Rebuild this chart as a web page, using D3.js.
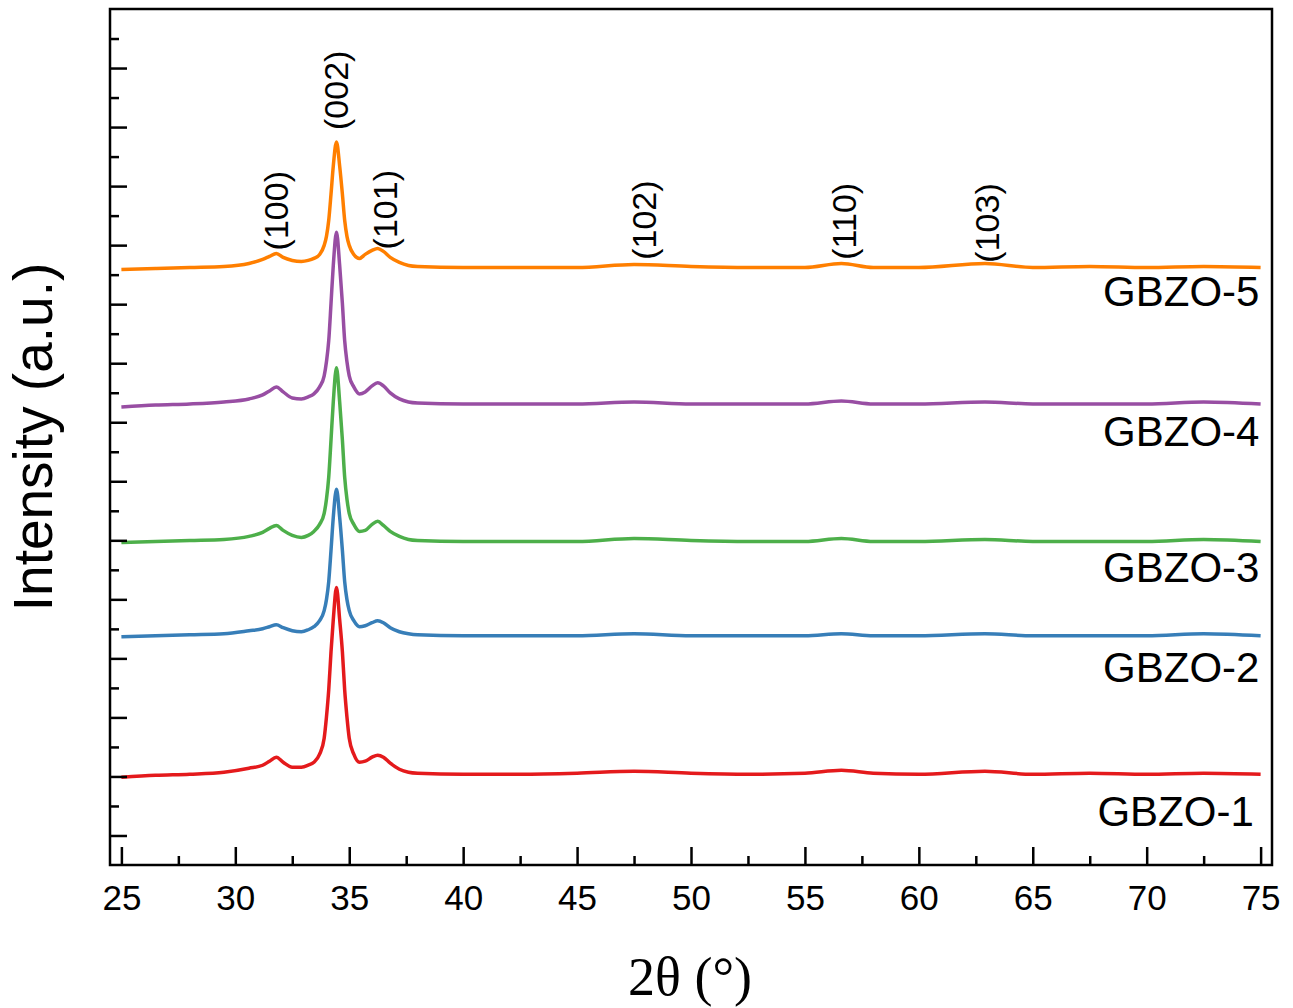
<!DOCTYPE html>
<html>
<head>
<meta charset="utf-8">
<script src="https://cdn.jsdelivr.net/npm/d3@7"></script>
<style>
  body { margin: 0; background: #fff; }
  svg { display: block; }
</style>
</head>
<body>
<svg id="chart" width="1293" height="1008"></svg>
<script>
// 2-theta positions (degrees) shared by all patterns
const twoTheta = [25, 26.5, 28, 29.5, 30.6, 31.2, 31.5, 31.8, 32.1, 32.5, 32.9, 33.2,
  33.45, 33.7, 33.9, 34.0, 34.1, 34.2, 34.3, 34.44, 34.58, 34.7, 34.8, 34.9, 35.0, 35.2, 35.45,
  35.7, 36.0, 36.25, 36.5, 36.8, 37.2, 37.6, 38, 40, 42.5, 45, 47.5, 50, 52.5, 55, 56.6,
  58, 60, 62.9, 65, 67.5, 70, 72.5, 75];

// stacked intensities (a.u., offsets included)
const gbzo1 = [986, 1020, 1037, 1071, 1139, 1190, 1258, 1326, 1241, 1156, 1156, 1190,
  1241, 1377, 1649, 2006, 2465, 3111, 3655, 4199, 3655, 3111, 2465, 2006, 1649, 1377, 1241,
  1258, 1326, 1360, 1326, 1224, 1122, 1071, 1054, 1037, 1037, 1054, 1088, 1054, 1037, 1054, 1105,
  1054, 1037, 1088, 1037, 1054, 1037, 1054, 1037];
const gbzo2 = [3366, 3383, 3400, 3417, 3468, 3502, 3536, 3570, 3519, 3468, 3451, 3485,
  3536, 3638, 3808, 3995, 4301, 4828, 5389, 5865, 5389, 4828, 4301, 3995, 3808, 3638, 3536,
  3553, 3604, 3638, 3604, 3519, 3451, 3417, 3400, 3383, 3383, 3383, 3417, 3383, 3383, 3383, 3417,
  3383, 3383, 3417, 3383, 3383, 3383, 3417, 3383];
const gbzo3 = [4964, 4981, 4998, 5015, 5066, 5134, 5202, 5253, 5168, 5083, 5049, 5083,
  5151, 5270, 5457, 5695, 6069, 6698, 7344, 7922, 7344, 6698, 6069, 5695, 5457, 5270, 5151,
  5168, 5270, 5321, 5253, 5151, 5066, 5015, 4998, 4981, 4981, 4981, 5032, 4998, 4981, 4981, 5032,
  4981, 4981, 5015, 4981, 4981, 4981, 5015, 4981];
const gbzo4 = [7259, 7293, 7310, 7344, 7395, 7463, 7531, 7599, 7514, 7412, 7395, 7429,
  7480, 7599, 7786, 8024, 8381, 9010, 9656, 10217, 9656, 9010, 8381, 8024, 7786, 7599, 7480,
  7514, 7616, 7667, 7616, 7497, 7395, 7344, 7327, 7310, 7310, 7310, 7344, 7310, 7310, 7310, 7361,
  7310, 7310, 7344, 7310, 7310, 7310, 7344, 7310];
const gbzo5 = [9588, 9605, 9622, 9639, 9690, 9758, 9809, 9860, 9792, 9741, 9724, 9741,
  9775, 9843, 9996, 10149, 10421, 10863, 11339, 11747, 11339, 10863, 10421, 10149, 9996, 9843, 9775,
  9843, 9911, 9945, 9894, 9792, 9707, 9656, 9639, 9622, 9622, 9622, 9673, 9639, 9622, 9622, 9690,
  9622, 9622, 9690, 9622, 9639, 9622, 9639, 9622];

const seriesNames = ['GBZO-1', 'GBZO-2', 'GBZO-3', 'GBZO-4', 'GBZO-5'];
const seriesValues = [gbzo1, gbzo2, gbzo3, gbzo4, gbzo5];

const xTicks = [25, 30, 35, 40, 45, 50, 55, 60, 65, 70, 75];
const xMinorTicks = [27.5, 32.5, 37.5, 42.5, 47.5, 52.5, 57.5, 62.5, 67.5, 72.5];
const yTicks = [0, 1000, 2000, 3000, 4000, 5000, 6000, 7000, 8000, 9000, 10000, 11000, 12000, 13000];
const yMinorTicks = [500, 1500, 2500, 3500, 4500, 5500, 6500, 7500, 8500, 9500, 10500, 11500, 12500, 13500];

// hkl reflections and where they sit on the 2-theta axis
const peakLabels = ['(100)', '(002)', '(101)', '(102)', '(110)', '(103)'];
const peakLabelAt = [31.8, 34.4, 36.55, 47.95, 56.7, 63.0];

const colors = ['#e41a1c', '#377eb8', '#4daf4a', '#984ea3', '#ff7f00'];
const labelDrop = [52, 46, 41, 42, 39];
const peakLabelGap = [3, 12, 3, 5, 4, 1];

const
  svg = d3.select('#chart'),
  plotLeft = 110, plotRight = 1272, plotTop = 9, plotBottom = 865;

const x = d3.scaleLinear().domain([24.5, 75.5]).range([plotLeft, plotRight]);
const y = d3.scaleLinear().domain([-500, 14000]).range([plotBottom, plotTop]);

// patterns
const line = d3.line()
  .x((d) => x(d[0]))
  .y((d) => y(d[1]))
  .curve(d3.curveMonotoneX);

seriesValues.forEach((vals, i) => {
  svg.append('path')
    .datum(twoTheta.map((t, j) => [t, vals[j]]))
    .attr('fill', 'none')
    .attr('stroke', colors[i])
    .attr('stroke-width', 3.5)
    .attr('stroke-linejoin', 'round')
    .attr('d', line);

  // sample name under the right end of each pattern
  svg.append('text')
    .attr('x', i === 0 ? x(74.7) : x(74.95))
    .attr('y', y(vals[vals.length - 1]) + labelDrop[i])
    .attr('text-anchor', 'end')
    .style('font-family', 'Liberation Sans, Arial, sans-serif')
    .style('font-size', '42px')
    .text(seriesNames[i]);
});

// reflection labels sitting just above the top pattern
const bisect = d3.bisector((d) => d).left;
function topValueAt (t) {
  let j = Math.max(1, bisect(twoTheta, t));
  let a = twoTheta[j - 1], b = twoTheta[j];
  let f = (t - a) / (b - a);
  return gbzo5[j - 1] + f * (gbzo5[j] - gbzo5[j - 1]);
}

peakLabels.forEach((lab, i) => {
  let t = peakLabelAt[i];
  let v = (lab === '(002)') ? d3.max(gbzo5) : topValueAt(t);
  let px = x(t), py = y(v) - peakLabelGap[i];
  svg.append('text')
    .attr('transform', `translate(${px},${py}) rotate(-90)`)
    .attr('dominant-baseline', 'central')
    .attr('text-anchor', 'start')
    .style('font-family', 'Liberation Sans, Arial, sans-serif')
    .style('font-size', '34px')
    .text(lab);
});

// axes, ticks pointing inward
function styleAxis (g) {
  g.select('.domain').remove();
  g.selectAll('.tick line').attr('stroke', '#000').attr('stroke-width', 2.5);
}

svg.append('g')
  .attr('transform', `translate(0,${plotBottom})`)
  .call(d3.axisBottom(x).tickValues(xTicks).tickSize(-18).tickPadding(20).tickFormat(d3.format('d')))
  .call(styleAxis)
  .call((g) => g.selectAll('text')
    .style('font-family', 'Liberation Sans, Arial, sans-serif')
    .style('font-size', '35px')
    .attr('fill', '#000'));

svg.append('g')
  .attr('transform', `translate(0,${plotBottom})`)
  .call(d3.axisBottom(x).tickValues(xMinorTicks).tickSize(-9).tickFormat(''))
  .call(styleAxis);

svg.append('g')
  .attr('transform', `translate(${plotLeft},0)`)
  .call(d3.axisLeft(y).tickValues(yTicks).tickSize(-17).tickFormat(''))
  .call(styleAxis);

svg.append('g')
  .attr('transform', `translate(${plotLeft},0)`)
  .call(d3.axisLeft(y).tickValues(yMinorTicks).tickSize(-9).tickFormat(''))
  .call(styleAxis);

// frame
svg.append('rect')
  .attr('x', plotLeft)
  .attr('y', plotTop)
  .attr('width', plotRight - plotLeft)
  .attr('height', plotBottom - plotTop)
  .attr('fill', 'none')
  .attr('stroke', '#000')
  .attr('stroke-width', 2.5);

// axis titles
svg.append('text')
  .attr('x', 690)
  .attr('y', 995)
  .attr('text-anchor', 'middle')
  .style('font-family', 'Liberation Serif, Times New Roman, serif')
  .style('font-size', '54px')
  .text('2θ (°)');

svg.append('text')
  .attr('transform', `translate(52,437) rotate(-90)`)
  .attr('text-anchor', 'middle')
  .style('font-family', 'Liberation Sans, Arial, sans-serif')
  .style('font-size', '55px')
  .text('Intensity (a.u.)');
</script>
</body>
</html>
